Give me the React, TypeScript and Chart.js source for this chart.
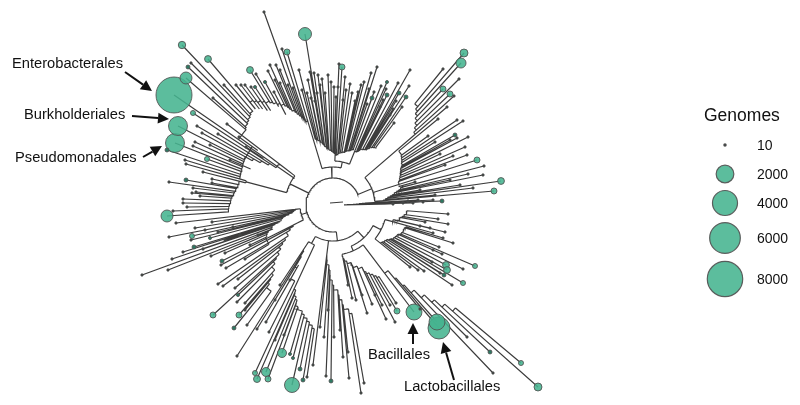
import React, { useEffect, useRef } from "react";
import { Chart, registerables } from "chart.js";

Chart.register(...registerables);

// Tips of each clade: [tree x, tree y, genomes]; the root of the tree is at 0,0.
const rootTips = [[109,-4,100],[100,-5],[90,-3],[85,-5],[80,-2],[75,-4],[70,-2],[60,-1]];
const cladeSE1 = [[115,9],[105,14],[115,19],[92,17],[97,23],[87,21],[100,28],[112,27]];
const cladeSE2 = [[110,33],[120,38],[106,42],[100,45],[109,49],[99,57],[142,61,160],[130,64],[113,60,300],[114,65,300],[107,68],[111,70,100],[130,78,160],[119,80],[91,66],[85,65],[77,62]];
const cladeS1 = [[63,98],[64,106,230],[57,100],[62,117],[53,114],[49,100],[39,99],[42,90],[34,108],[29,90],[23,95],[19,93],[15,80]];
const cladeS2 = [[205,182,408],[188,158,160],[157,147,100],[134,132],[160,168],[104,117,1630],[106,123,3086],[87,104],[81,107,1630]];
const cladeM = [[31,178],[28,188],[15,147],[16,173],[10,152],[7,125],[1,132],[-2,176,100],[-5,105],[-7,171],[-9,132],[-13,122],[-20,160]];
const cladeBL1 = [[-26,172],[-30,175,100],[-33,164,100],[-40,153,60],[-43,149,60],[-41,180,1435],[-51,148,516],[-49,130],[-58,135],[-65,174,230],[-67,167,516],[-76,174,312],[-78,168,160]];
const cladeBL2 = [[-64,127],[-67,117],[-76,124],[-96,151],[-53,80],[-43,75],[-58,95]];
const cladeSW1 = [[-86,120],[-99,123,100],[-94,110,230],[-120,110,230],[-88,105],[-88,98],[-96,97],[-95,90,60],[-98,83],[-95,74],[-110,81],[-115,79],[-107,63],[-112,60],[-111,56,100]];
const cladeSW2 = [[-108,48],[-122,51],[-88,54],[-161,54],[-191,70],[-165,65],[-139,42,100],[-123,33,60],[-141,31,160],[-142,35],[-164,32],[-157,18],[-121,17],[-93,30],[-83,40],[-138,23],[-108,35],[-100,22],[-130,44],[-115,27],[-150,47],[-75,30],[-128,25]];
const cladeW4 = [[-166,11,918],[-160,6],[-146,2],[-150,-2],[-150,-6],[-133,-9],[-141,-12],[-137,-13],[-140,-17],[-121,-22],[-147,-25,100],[-164,-23],[-121,-26],[-130,-33]];
const cladeW3 = [[-147,-41],[-148,-45],[-126,-46,160],[-103,-45],[-87,-58],[-140,-59],[-138,-63],[-166,-55,100],[-158,-62,2300],[-123,-60],[-94,-68]];
const cladeW2 = [[-115,-71],[-131,-72],[-136,-79],[-155,-79,2300],[-106,-81],[-140,-92,160]];
const cladeW1 = [[-120,-107],[-109,-120],[-159,-110,8264],[-147,-127,918],[-145,-138,100],[-142,-142],[-151,-160,350],[-125,-146,300]];
const cladeN1 = [[-97,-120],[-92,-120],[-88,-120],[-82,-118],[-78,-118,60],[-83,-135,300],[-68,-123,60],[-77,-131],[-65,-134],[-63,-140],[-59,-113],[-58,-125],[-53,-122],[-57,-140],[-53,-135],[-46,-153,230],[-51,-156],[-40,-117],[-45,-120],[-69,-193]];
const cladeN2 = [[-28,-171,1078],[-34,-135],[-31,-115],[-26,-112],[-23,-133],[-22,-107],[-19,-132],[-16,-112],[-15,-130],[-11,-126],[-8,-112],[-2,-123],[1,-118],[5,-118],[-25,-125],[-13,-120],[-5,-130],[-18,-104],[3,-108]];
const cladeN3 = [[6,-141],[9,-138,230],[12,-128],[13,-115],[17,-121],[19,-112],[25,-113],[31,-123],[34,-101],[38,-132],[44,-138],[39,-107,100],[41,-113],[22,-104],[28,-120],[36,-116],[10,-105]];
const cladeN4 = [[47,-98],[48,-119],[54,-110,100],[53,-116],[54,-123,60],[60,-96],[61,-82],[65,-122],[66,-112,100],[69,-98],[73,-108,100],[76,-119],[77,-135],[50,-105],[57,-90],[63,-104]];
const cladeNE1 = [[131,-152,408],[128,-142,640],[110,-136],[126,-126],[110,-116,230],[117,-111,230],[121,-109],[114,-98]];
const cladeNE2 = [[105,-86],[130,-84],[124,-85],[95,-69],[124,-67],[122,-70,100],[135,-68],[102,-63],[132,-58],[120,-49],[107,-51],[134,-50],[144,-45,230],[117,-65],[112,-40]];
const cladeNE3 = [[151,-39],[135,-31],[150,-30],[168,-24,300],[161,-14,230],[140,-17],[117,-25],[127,-20],[102,-10],[87,-15],[82,-23]];

// Branch lengths of the tree's inner nodes.
const tree = { r: 27, kids: [
  { r: 36, kids: [
    { r: 45, kids: [
      { r: 54, kids: [{ tips: cladeSE1, r0: 74, r1: 60 }, { tips: cladeSE2, r0: 76, r1: 60 }] },
      { r: 50, kids: [{ tips: cladeS1, r0: 85, r1: 52 }, { tips: cladeS2, r0: 160, r1: 75 }] },
    ] },
    { tips: cladeM, r0: 110, r1: 50 },
    { r: 44, kids: [{ tips: cladeBL1, r0: 125, r1: 90 }, { tips: cladeBL2, r0: 85, r1: 48 }] },
  ] },
  { r: 33, kids: [{ tips: cladeSW1, r0: 106, r1: 40 }, { tips: cladeSW2, r0: 75, r1: 36 }] },
  { r: 48, kids: [
    { r: 90, kids: [{ tips: cladeW4, r0: 105, r1: 96 }, { tips: cladeW3, r0: 97, r1: 100 }] },
    { tips: cladeW2, r0: 100, r1: 60 },
    { tips: cladeW1, r0: 115, r1: 125 },
  ] },
  { r: 38, kids: [
    { tips: cladeN1, r0: 132, r1: 85 },
    { r: 44, kids: [{ tips: cladeN2, r0: 68, r1: 50 }, { tips: cladeN3, r0: 50, r1: 60 }, { tips: cladeN4, r0: 58, r1: 72 }] },
  ] },
  { r: 42, kids: [{ tips: cladeNE1, r0: 130, r1: 105 }, { tips: cladeNE2, r0: 85, r1: 68 }, { tips: cladeNE3, r0: 72, r1: 48 }] },
] };
const rootClade = { tips: rootTips, r0: 32, r1: 11 };
const rootStemX = [-3, 10];
const rootStemY = [-2, -3];

const legendValues = [10, 2000, 4000, 6000, 8000];
const legendX = [392, 392, 392, 392, 392];
const legendY = [-60, -31, -2, 33, 74];
const legendTextY = [-59, -30, -1, 34, 75];
const legendTextX = 424;
const legendTitle = "Genomes";
const legendTitleX = 371;
const legendTitleY = -89;

const cladeLabels = ["Enterobacterales", "Burkholderiales", "Pseudomonadales", "Bacillales", "Lactobacillales"];
const labelX = [-321, -309, -318, 35, 71];
const labelY = [-141, -90, -47, 150, 182];
const arrowFromX = [-208, -201, -190, 80, 121];
const arrowFromY = [-133, -89, -48, 139, 175];
const arrowToX = [-181, -164, -171, 80, 110];
const arrowToY = [-114, -86, -59, 118, 137];

const TEAL = "rgba(70,180,144,0.88)";
const MID = "rgb(44,122,98)";
const DARK = "rgb(52,62,58)";
const radiusOf = (g: number) => Math.max(1.2, 0.198 * Math.sqrt(g));
const CUT = (1 * Math.PI) / 180;
const thetaOf = (x: number, y: number) => {
  let t = Math.atan2(y, x);
  while (t < CUT) t += Math.PI * 2;
  return t;
};

function buildTree() {
  const segs: { x: number; y: number }[] = [];
  const dots: { x: number; y: number; r: number }[] = [];
  const pt = (r: number, t: number) => ({ x: r * Math.cos(t), y: r * Math.sin(t) });
  const brk = () => segs.push({ x: NaN, y: NaN });
  const arc = (r: number, a: number, b: number) => {
    const n = Math.max(1, Math.ceil(Math.abs(b - a) / 0.035));
    for (let i = 0; i <= n; i++) segs.push(pt(r, a + ((b - a) * i) / n));
  };
  const place = (n: any): { theta: number; r: number } => {
    if (n.tips) {
      const sorted = n.tips.map((p: number[]) => ({ x: p[0], y: p[1], g: p[2] ?? 10, t: thetaOf(p[0], p[1]) })).sort((a: any, b: any) => a.t - b.t);
      const last = sorted.length - 1;
      const bases = sorted.map((_: any, i: number) => n.r0 + ((n.r1 - n.r0) * i) / last);
      sorted.forEach((p: any, i: number) => {
        const len = Math.hypot(p.x, p.y);
        segs.push(pt(Math.min(bases[i], len * 0.8), p.t));
        segs.push({ x: p.x, y: p.y });
        brk();
        dots.push({ x: p.x, y: p.y, r: radiusOf(p.g) });
        if (i < last) {
          arc(bases[i], p.t, sorted[i + 1].t);
          segs.push(pt(bases[i + 1], sorted[i + 1].t));
          brk();
        }
      });
      return n.r1 < n.r0 ? { theta: sorted[last].t, r: n.r1 } : { theta: sorted[0].t, r: n.r0 };
    }
    const kids = n.kids.map(place);
    kids.forEach((k: any) => {
      segs.push(pt(k.r, k.theta));
      segs.push(pt(n.r, k.theta));
      brk();
    });
    const ts = kids.map((k: any) => k.theta);
    const lo = Math.min(...ts);
    const hi = Math.max(...ts);
    arc(n.r, lo, hi);
    brk();
    return { theta: (lo + hi) / 2, r: n.r };
  };
  place(tree);
  place(rootClade);
  rootStemX.forEach((x, i) => segs.push({ x, y: rootStemY[i] }));
  brk();
  dots.sort((a, b) => b.r - a.r);
  return { segs, dots };
}

const annotations = {
  id: "annotations",
  afterDatasetsDraw(chart: any) {
    const { ctx, scales } = chart;
    const sx = scales.x;
    const sy = scales.y;
    ctx.save();
    ctx.fillStyle = "#111";
    ctx.strokeStyle = "#111";
    ctx.textBaseline = "middle";
    ctx.textAlign = "left";
    ctx.font = '14.7px "Liberation Sans", Arial, sans-serif';
    cladeLabels.forEach((t, i) => ctx.fillText(t, sx.getPixelForValue(labelX[i]), sy.getPixelForValue(labelY[i])));
    arrowFromX.forEach((_, i) => {
      const x0 = sx.getPixelForValue(arrowFromX[i]);
      const y0 = sy.getPixelForValue(arrowFromY[i]);
      const x1 = sx.getPixelForValue(arrowToX[i]);
      const y1 = sy.getPixelForValue(arrowToY[i]);
      const a = Math.atan2(y1 - y0, x1 - x0);
      const hl = 11;
      const hw = 5.5;
      const bx = x1 - hl * Math.cos(a);
      const by = y1 - hl * Math.sin(a);
      ctx.lineWidth = 2;
      ctx.beginPath();
      ctx.moveTo(x0, y0);
      ctx.lineTo(bx, by);
      ctx.stroke();
      ctx.beginPath();
      ctx.moveTo(x1, y1);
      ctx.lineTo(bx - hw * Math.sin(a), by + hw * Math.cos(a));
      ctx.lineTo(bx + hw * Math.sin(a), by - hw * Math.cos(a));
      ctx.closePath();
      ctx.fill();
    });
    ctx.font = '17.5px "Liberation Sans", Arial, sans-serif';
    ctx.fillText(legendTitle, sx.getPixelForValue(legendTitleX), sy.getPixelForValue(legendTitleY));
    ctx.font = '14px "Liberation Sans", Arial, sans-serif';
    legendValues.forEach((v, i) => ctx.fillText(String(v), sx.getPixelForValue(legendTextX), sy.getPixelForValue(legendTextY[i])));
    ctx.restore();
  },
};

export default function App() {
  const ref = useRef<HTMLCanvasElement>(null);
  useEffect(() => {
    const { segs, dots } = buildTree();
    const legendDots = legendValues.map((v, i) => ({ x: legendX[i], y: legendY[i], r: radiusOf(v) }));
    const fill = (c: any) => {
      const r = c.raw ? c.raw.r : 9;
      return r < 1.4 ? DARK : r < 2.3 ? MID : TEAL;
    };
    const chart = new Chart(ref.current!, {
      type: "bubble",
      data: {
        datasets: [
          { type: "scatter", data: segs, showLine: true, pointRadius: 0, borderColor: "#3c3c3c", borderWidth: 1.2, spanGaps: false, order: 3, clip: false } as any,
          { data: dots, backgroundColor: fill, borderColor: "rgba(80,80,80,0.85)", borderWidth: 1, order: 2, clip: false } as any,
          { data: legendDots, backgroundColor: fill, borderColor: "rgba(80,80,80,0.9)", borderWidth: 1.2, order: 1, clip: false } as any,
        ],
      },
      options: {
        animation: false,
        responsive: false,
        devicePixelRatio: 1,
        events: [],
        layout: { padding: 0, autoPadding: false },
        plugins: { legend: { display: false }, tooltip: { enabled: false } },
        scales: {
          x: { type: "linear", display: false, min: -333, max: 467 },
          y: { type: "linear", display: false, min: -205, max: 200, reverse: true },
        },
      },
      plugins: [annotations],
    } as any);
    return () => chart.destroy();
  }, []);
  return (
    <div style={{ position: "fixed", left: 0, top: 0, width: 800, height: 405, background: "#fff" }}>
      <canvas ref={ref} width={800} height={405} style={{ display: "block", filter: "blur(0.3px)" }} />
    </div>
  );
}
